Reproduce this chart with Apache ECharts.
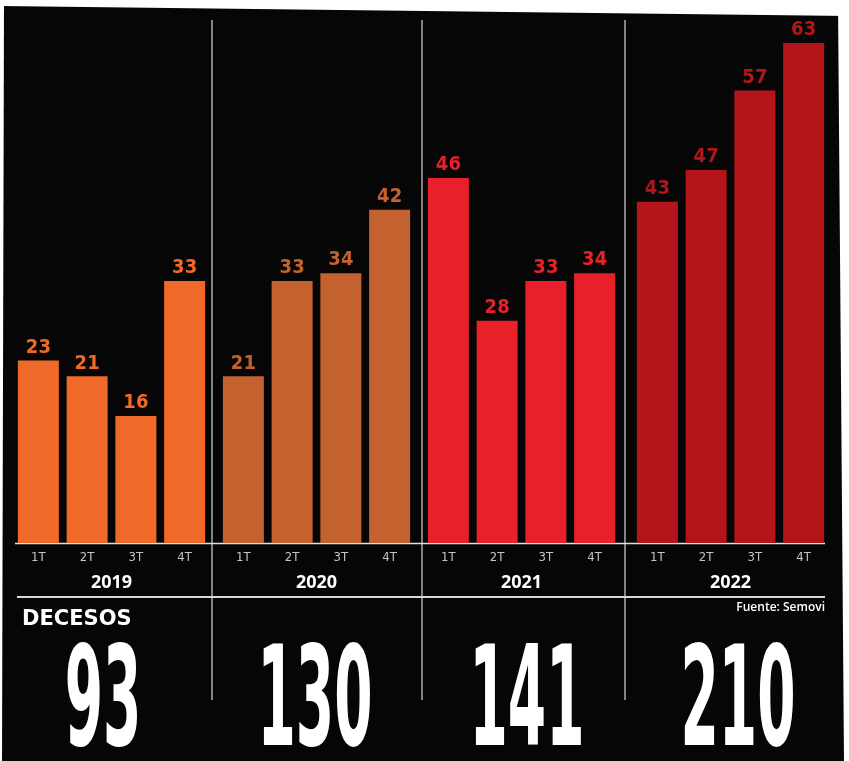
<!DOCTYPE html>
<html><head><meta charset="utf-8">
<script src="https://cdn.jsdelivr.net/npm/echarts@6/dist/echarts.min.js"></script>
<style>html,body{margin:0;padding:0;background:#fff;}#c{width:849px;height:761px;}</style>
</head><body><div id="c"></div>
<script>
const years = ['2019', '2020', '2021', '2022'];
const quarters = ['1T', '2T', '3T', '4T'];
const deaths2019 = [23, 21, 16, 33];
const deaths2020 = [21, 33, 34, 42];
const deaths2021 = [46, 28, 33, 34];
const deaths2022 = [43, 47, 57, 63];
const yearTotals = ['93', '130', '141', '210'];
const titleText = 'DECESOS';
const sourceText = 'Fuente: Semovi';

const yearData = [deaths2019, deaths2020, deaths2021, deaths2022];
const colors = ['#ef6a28', '#c4622f', '#e8202a', '#b3151b'];
const gridLefts = [14, 219, 424, 633];
const gridW = 195;
const narrow = '"Liberation Sans Narrow","DejaVu Sans Condensed",sans-serif';

const chart = echarts.init(document.getElementById('c'), null, {renderer: 'canvas'});

const grids = [], xAxes = [], yAxes = [], series = [], graphics = [];
yearData.forEach((vals, i) => {
  grids.push({left: gridLefts[i], width: gridW, top: 43, bottom: 218, containLabel: false});
  xAxes.push({
    type: 'category', gridIndex: i, data: quarters,
    axisLine: {show: false}, axisTick: {show: false}, splitLine: {show: false},
    axisLabel: {color: '#c4c4c4', fontSize: 13, margin: 8, fontFamily: '"DejaVu Sans Condensed",sans-serif', fontWeight: 'normal'}
  });
  yAxes.push({type: 'value', gridIndex: i, min: 0, max: 63, show: false, splitLine: {show: false}});
  series.push({
    type: 'bar', xAxisIndex: i, yAxisIndex: i, data: vals, barWidth: 41,
    itemStyle: {color: colors[i]},
    label: {show: true, position: 'top', distance: 3, color: colors[i], fontSize: 20,
      fontWeight: 'bold', fontFamily: narrow}
  });
  // year label
  graphics.push({type: 'text', x: gridLefts[i] + gridW / 2, y: 583,
    style: {text: years[i], fill: '#ffffff', font: 'bold 18px "Open Sans",sans-serif', align: 'center', verticalAlign: 'middle'}});
  // big totals
  graphics.push({type: 'text', x: [103, 315, 527, 738][i], y: 709, scaleX: 0.44, scaleY: 1,
    style: {text: yearTotals[i], fill: '#ffffff', font: 'bold 139px "DejaVu Sans Condensed",sans-serif', align: 'center', verticalAlign: 'middle'}});
});

// panel dividers and rules
[212, 422, 625].forEach(x => {
  graphics.push({type: 'line', shape: {x1: x, y1: 20, x2: x, y2: 700}, style: {stroke: '#d8d8d8', lineWidth: 1.2}});
});
graphics.push({type: 'line', shape: {x1: 15, y1: 543.5, x2: 825, y2: 543.5}, style: {stroke: '#e0e0e0', lineWidth: 1.5}});
graphics.push({type: 'line', shape: {x1: 17, y1: 597, x2: 825, y2: 597}, style: {stroke: '#d8d8d8', lineWidth: 2}});
graphics.push({type: 'text', x: 22, y: 620,
  style: {text: titleText, fill: '#ffffff', font: 'bold 21px "DejaVu Sans",sans-serif', align: 'left', verticalAlign: 'middle'}});
graphics.push({type: 'text', x: 825, y: 608,
  style: {text: sourceText, fill: '#ffffff', font: '600 12px "Open Sans",sans-serif', align: 'right', verticalAlign: 'middle'}});
// paper edges (white margins of the scan)
graphics.push({type: 'polygon', shape: {points: [[0, 0], [849, 0], [849, 16], [0, 6]]}, style: {fill: '#ffffff'}});
graphics.push({type: 'polygon', shape: {points: [[838, 0], [849, 0], [849, 761], [844, 761]]}, style: {fill: '#ffffff'}});
graphics.push({type: 'polygon', shape: {points: [[0, 0], [4, 0], [2, 761], [0, 761]]}, style: {fill: '#ffffff'}});

chart.setOption({
  backgroundColor: '#060606',
  animation: false,
  grid: grids, xAxis: xAxes, yAxis: yAxes, series: series,
  graphic: {elements: graphics}
});
</script></body></html>
